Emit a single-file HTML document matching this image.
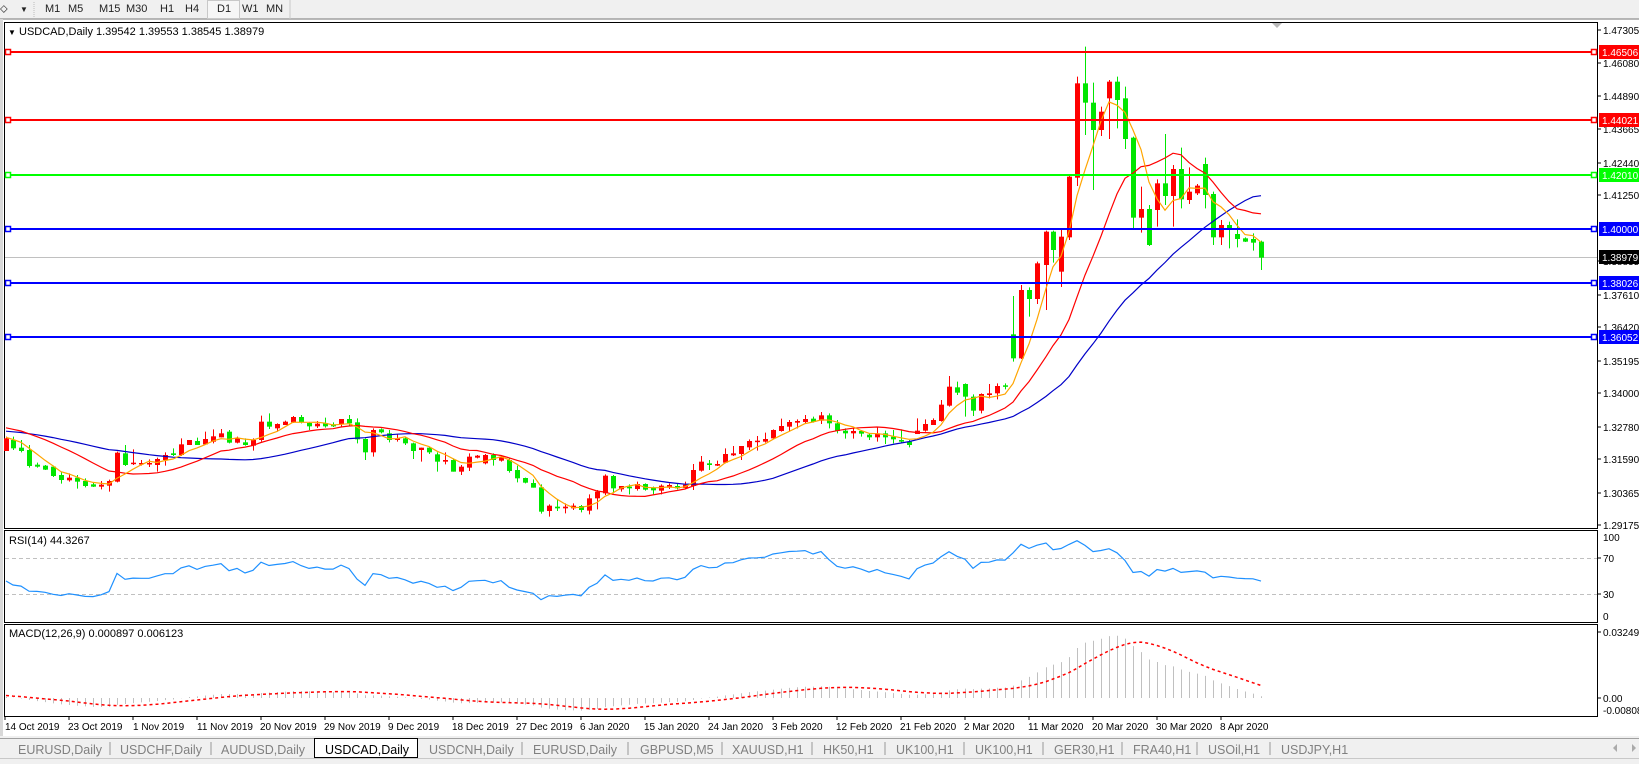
<!DOCTYPE html>
<html><head><meta charset="utf-8"><style>
html,body{margin:0;padding:0;background:#fff;}
svg{display:block;font-family:"Liberation Sans",Tahoma,sans-serif;}
</style></head><body>
<svg id="s" width="1639" height="764" viewBox="0 0 1639 764" xmlns="http://www.w3.org/2000/svg">
<rect x="0" y="0" width="1639" height="764" fill="#ffffff"/>
<rect x="0" y="0" width="1639" height="19" fill="#f0f0f0"/>
<line x1="0" y1="19" x2="1639" y2="19" stroke="#a0a0a0" stroke-width="1.5"/>
<rect x="0" y="19" width="3" height="720" fill="#d8d8d8"/>
<g font-size="11" fill="#222">
<text x="0" y="12">⬦</text><text x="20" y="12" font-size="8">▼</text>
<line x1="34" y1="2" x2="34" y2="17" stroke="#bbb" stroke-dasharray="1,1"/>
<text x="45" y="12">M1</text><text x="68" y="12">M5</text><text x="99" y="12">M15</text><text x="126" y="12">M30</text>
<text x="160" y="12">H1</text><text x="185" y="12">H4</text>
<rect x="207.5" y="0.5" width="32" height="18" fill="#f6f6f6" stroke="#c8c8c8"/>
<text x="217" y="12">D1</text><text x="242" y="12">W1</text><text x="266" y="12">MN</text>
<line x1="290" y1="0" x2="290" y2="19" stroke="#c8c8c8"/>
</g>
<rect x="4.5" y="22.5" width="1593" height="506" fill="none" stroke="#000"/>
<rect x="4.5" y="530.5" width="1593" height="92" fill="none" stroke="#000"/>
<rect x="4.5" y="624.5" width="1593" height="92" fill="none" stroke="#000"/>
<polygon points="1272,23 1282,23 1277,28" fill="#b8b8b8"/>
<g id="plot"></g>
<g id="hl"></g>
<g font-size="11" fill="#000">
<text x="8" y="35" font-size="8">▼</text>
<text x="19" y="35">USDCAD,Daily  1.39542 1.39553 1.38545 1.38979</text>
<text x="9" y="544">RSI(14) 44.3267</text>
<text x="9" y="637">MACD(12,26,9) 0.000897 0.006123</text>
</g>
<g font-size="10" fill="#000" id="pax">
<text x="1603" y="34">1.47305</text>
<text x="1603" y="67">1.46080</text>
<text x="1603" y="100">1.44890</text>
<text x="1603" y="133">1.43665</text>
<text x="1603" y="167">1.42440</text>
<text x="1603" y="199">1.41250</text>
<text x="1603" y="233">1.40000</text>
<text x="1603" y="265">1.38835</text>
<text x="1603" y="299">1.37610</text>
<text x="1603" y="331">1.36420</text>
<text x="1603" y="365">1.35195</text>
<text x="1603" y="397">1.34000</text>
<text x="1603" y="431">1.32780</text>
<text x="1603" y="463">1.31590</text>
<text x="1603" y="497">1.30365</text>
<text x="1603" y="529">1.29175</text>
<text x="1603" y="541">100</text>
<text x="1603" y="562">70</text>
<text x="1603" y="598">30</text>
<text x="1603" y="620">0</text>
<text x="1603" y="636">0.032493</text>
<text x="1603" y="702">0.00</text>
<text x="1603" y="714">-0.008086</text>
</g>
<g stroke="#000" id="ticks">
<line x1="1597" y1="30" x2="1601" y2="30"/><line x1="1597" y1="63" x2="1601" y2="63"/><line x1="1597" y1="96" x2="1601" y2="96"/><line x1="1597" y1="129" x2="1601" y2="129"/><line x1="1597" y1="163" x2="1601" y2="163"/><line x1="1597" y1="195" x2="1601" y2="195"/><line x1="1597" y1="261" x2="1601" y2="261"/><line x1="1597" y1="295" x2="1601" y2="295"/><line x1="1597" y1="327" x2="1601" y2="327"/><line x1="1597" y1="361" x2="1601" y2="361"/><line x1="1597" y1="393" x2="1601" y2="393"/><line x1="1597" y1="427" x2="1601" y2="427"/><line x1="1597" y1="459" x2="1601" y2="459"/><line x1="1597" y1="493" x2="1601" y2="493"/><line x1="1597" y1="525" x2="1601" y2="525"/>
<line x1="1597" y1="558" x2="1601" y2="558"/><line x1="1597" y1="594" x2="1601" y2="594"/><line x1="1597" y1="698" x2="1601" y2="698"/><line x1="1597" y1="632" x2="1601" y2="632"/>
</g>
<g font-size="10" fill="#000">
<text x="5" y="730">14 Oct 2019</text><text x="68" y="730">23 Oct 2019</text><text x="133" y="730">1 Nov 2019</text>
<text x="197" y="730">11 Nov 2019</text><text x="260" y="730">20 Nov 2019</text><text x="324" y="730">29 Nov 2019</text>
<text x="388" y="730">9 Dec 2019</text><text x="452" y="730">18 Dec 2019</text><text x="516" y="730">27 Dec 2019</text>
<text x="580" y="730">6 Jan 2020</text><text x="644" y="730">15 Jan 2020</text><text x="708" y="730">24 Jan 2020</text>
<text x="772" y="730">3 Feb 2020</text><text x="836" y="730">12 Feb 2020</text><text x="900" y="730">21 Feb 2020</text>
<text x="964" y="730">2 Mar 2020</text><text x="1028" y="730">11 Mar 2020</text><text x="1092" y="730">20 Mar 2020</text>
<text x="1156" y="730">30 Mar 2020</text><text x="1220" y="730">8 Apr 2020</text>
</g>
<g stroke="#000">
<line x1="5" y1="716" x2="5" y2="720"/><line x1="69" y1="716" x2="69" y2="720"/><line x1="133" y1="716" x2="133" y2="720"/><line x1="197" y1="716" x2="197" y2="720"/><line x1="261" y1="716" x2="261" y2="720"/><line x1="325" y1="716" x2="325" y2="720"/><line x1="389" y1="716" x2="389" y2="720"/><line x1="453" y1="716" x2="453" y2="720"/><line x1="517" y1="716" x2="517" y2="720"/><line x1="581" y1="716" x2="581" y2="720"/><line x1="645" y1="716" x2="645" y2="720"/><line x1="709" y1="716" x2="709" y2="720"/><line x1="773" y1="716" x2="773" y2="720"/><line x1="837" y1="716" x2="837" y2="720"/><line x1="901" y1="716" x2="901" y2="720"/><line x1="965" y1="716" x2="965" y2="720"/><line x1="1029" y1="716" x2="1029" y2="720"/><line x1="1093" y1="716" x2="1093" y2="720"/><line x1="1157" y1="716" x2="1157" y2="720"/><line x1="1221" y1="716" x2="1221" y2="720"/>
</g>
<rect x="0" y="736" width="1639" height="28" fill="#f0f0f0"/>
<line x1="0" y1="738.5" x2="1639" y2="738.5" stroke="#a0a0a0"/>
<line x1="0" y1="758.5" x2="1639" y2="758.5" stroke="#c8c8c8"/>
<rect x="314.5" y="738.5" width="103" height="19" fill="#fff" stroke="#000"/>
<g font-size="12.5" fill="#808080">
<text x="18" y="754">EURUSD,Daily</text><text x="120" y="754">USDCHF,Daily</text><text x="221" y="754">AUDUSD,Daily</text>
<text x="325" y="754" fill="#000">USDCAD,Daily</text>
<text x="429" y="754">USDCNH,Daily</text><text x="533" y="754">EURUSD,Daily</text><text x="640" y="754">GBPUSD,M5</text>
<text x="732" y="754">XAUUSD,H1</text><text x="823" y="754">HK50,H1</text><text x="896" y="754">UK100,H1</text>
<text x="975" y="754">UK100,H1</text><text x="1054" y="754">GER30,H1</text><text x="1133" y="754">FRA40,H1</text>
<text x="1208" y="754">USOil,H1</text><text x="1281" y="754">USDJPY,H1</text>
</g>
<g stroke="#999">
<line x1="110" y1="742" x2="110" y2="755"/><line x1="211" y1="742" x2="211" y2="755"/><line x1="522" y1="742" x2="522" y2="755"/><line x1="628" y1="742" x2="628" y2="755"/><line x1="722" y1="742" x2="722" y2="755"/><line x1="812" y1="742" x2="812" y2="755"/><line x1="885" y1="742" x2="885" y2="755"/><line x1="964" y1="742" x2="964" y2="755"/><line x1="1043" y1="742" x2="1043" y2="755"/><line x1="1122" y1="742" x2="1122" y2="755"/><line x1="1197" y1="742" x2="1197" y2="755"/><line x1="1270" y1="742" x2="1270" y2="755"/>
</g>
<polygon points="1617,744 1617,752 1613,748" fill="#aaa"/><polygon points="1632,744 1632,752 1636,748" fill="#aaa"/>
</svg>
<script>
(function(){
var NS="http://www.w3.org/2000/svg";
function el(p,t,a){var e=document.createElementNS(NS,t);for(var k in a)e.setAttribute(k,a[k]);p.appendChild(e);return e;}
var Z={8:[0,395],9:[330,395],10:[660,360],11:[960,230],5:[960,40]};
var R=[
[8,18,'r',130,168,125,168],[8,40,'g',135,160,125,165],[8,64,'g',158,168,135,172],[8,88,'g',165,213,150,218],[8,112,'g',209,215,203,218],[8,136,'g',212,224,210,225],[8,160,'g',215,243,212,246],[8,184,'g',240,255,232,266],[8,208,'r',248,256,235,260],[8,232,'g',248,260,240,281],[8,256,'g',258,273,250,277],[8,280,'g',268,275,262,276],[8,304,'r',269,275,258,283],[8,328,'r',258,272,254,290],[8,352,'r',173,260,170,262],[8,376,'g',175,210,150,213],[8,400,'r',203,207,163,210],[8,424,'r',204,208,195,212],[8,448,'r',204,208,193,216],[8,472,'r',192,210,188,230],[8,496,'r',180,195,172,212],[8,520,'g',175,180,160,183],[8,544,'r',148,180,130,183],[8,568,'r',135,150,135,150],[8,592,'g',138,150,128,150],[8,616,'r',132,148,110,150],[8,640,'r',124,140,103,145],[8,664,'r',115,127,102,127],[8,688,'g',110,143,105,145],[8,712,'r',130,143,125,145],[8,736,'g',142,150,130,152],[8,760,'r',135,152,130,167],[8,784,'r',80,135,62,140],[8,808,'g',80,95,55,102],[8,832,'r',87,100,85,110],[8,856,'r',80,90,77,90],[8,880,'r',66,82,63,84],[8,904,'g',66,82,60,85],[8,928,'g',84,94,82,105],[8,952,'r',86,94,78,99],[8,976,'g',84,94,68,98],[8,1000,'g',88,94,82,96],
[9,34,'r',72,88,72,95],[9,58,'g',72,85,60,92],[9,82,'g',82,133,70,145],[9,106,'g',132,172,130,195],[9,130,'r',105,172,100,185],[9,154,'g',103,112,100,115],[9,178,'g',115,135,105,142],[9,202,'r',130,135,118,140],[9,226,'g',130,145,125,150],[9,250,'g',145,168,143,192],[9,274,'r',158,165,158,200],[9,298,'g',158,172,155,177],[9,322,'g',178,200,172,230],[9,346,'r',195,200,172,208],[9,370,'g',195,230,190,230],[9,394,'r',215,230,210,240],[9,418,'r',185,218,175,228],[9,442,'r',182,188,180,190],[9,466,'r',180,205,177,208],[9,490,'g',180,195,175,212],[9,514,'r',185,197,180,200],[9,538,'g',195,228,190,233],[9,562,'g',225,250,212,262],[9,586,'g',249,263,248,265],[9,610,'g',264,278,253,278],[9,634,'g',277,350,268,356],[9,658,'r',332,348,328,365],[9,682,'g',335,340,315,348],[9,706,'r',335,340,325,355],[9,730,'r',332,340,325,345],[9,754,'g',333,345,330,352],[9,778,'r',310,347,298,358],[9,802,'r',290,310,285,343],[9,826,'r',242,295,238,300],[9,850,'g',243,280,240,295],[9,874,'r',273,283,273,290],[9,898,'g',275,280,268,298],[9,922,'r',267,282,260,287],[9,946,'g',267,284,265,287],[9,970,'g',278,286,275,298],[9,994,'r',272,287,268,298],
[10,28,'r',375,383,370,387],[10,52,'g',378,385,372,388],[10,76,'r',374,384,365,388],[10,100,'r',330,378,312,390],[10,124,'r',305,332,288,335],[10,148,'g',310,315,300,330],[10,172,'r',312,317,302,318],[10,196,'r',282,308,265,310],[10,220,'r',280,286,258,288],[10,244,'r',258,282,258,300],[10,268,'r',243,262,238,270],[10,292,'r',242,244,228,272],[10,316,'r',237,245,218,248],[10,340,'r',210,235,208,238],[10,364,'r',198,213,176,215],[10,388,'r',186,200,180,215],[10,412,'r',183,188,178,205],[10,436,'r',177,186,165,192],[10,460,'g',176,186,170,188],[10,484,'r',166,182,156,192],[10,508,'g',166,190,160,205],[10,532,'g',190,213,180,220],[10,556,'g',212,220,205,236],[10,580,'r',213,220,205,236],[10,604,'g',213,221,210,230],[10,628,'g',224,232,220,240],[10,652,'r',220,232,200,245],[10,676,'g',220,232,212,252],[10,700,'g',230,238,210,250],[10,724,'g',240,245,208,250],[10,748,'g',245,255,240,262],[10,772,'r',212,222,175,222],[10,796,'r',192,212,178,215],[10,820,'r',180,195,175,195],[10,844,'r',134,183,120,185],[10,868,'r',80,137,48,140],[10,892,'g',82,98,65,105],[10,916,'g',72,110,70,170],[10,940,'g',110,152,103,168],[10,964,'r',102,152,100,160],[10,988,'r',100,105,72,115],
[11,112,'r',468,490,460,508],[11,136,'g',466,469,460,478],[11,160,'g',313,385,198,395],[11,184,'r',180,385,165,387],[11,208,'g',180,207,172,260],[11,232,'r',100,207,95,222],
[5,257,'r',575,675,572,810],[5,280,'g',575,630,572,668],[5,304,'r',590,695,570,741],[5,328,'r',410,592,405,600],[5,352,'r',130,413,110,438],[5,376,'g',130,188,20,285],[5,400,'g',188,270,128,450],[5,424,'r',215,270,200,288],[5,448,'r',125,175,120,297],[5,472,'g',125,180,110,265],[5,496,'g',175,297,140,327],[5,520,'g',293,533,290,565],[5,544,'r',507,533,440,578],[5,568,'g',507,615,495,618],[5,592,'r',430,510,418,560],[5,616,'g',430,468,282,495],[5,640,'r',387,468,375,560],[5,664,'g',387,478,323,505],[5,688,'r',455,480,382,492],[5,712,'r',437,460,432,465],[5,736,'g',372,465,353,505],[5,760,'g',462,592,455,615],[5,784,'r',555,592,540,615],[5,808,'g',555,570,545,625],[5,832,'g',582,597,538,622],
[11,856,'g',25,35,22,36],[11,880,'g',27,38,10,62],[11,904,'g',35,83,32,120]
];
var plot=document.getElementById('plot');
var C=[];
R.forEach(function(r){var o=Z[r[0]];var x=Math.round(o[0]+r[1]/3);
 var t=o[1]+r[3]/3,b=o[1]+r[4]/3,h=o[1]+r[5]/3,l=o[1]+r[6]/3;
 C.push({x:x,t:t,b:b,h:h,l:l,c:r[2],cl:r[2]=='r'?t:b});});
function P(y){return 1.47305-(y-30)/2730.3;}
el(plot,'line',{x1:5,y1:257.5,x2:1597,y2:257.5,stroke:'#c0c0c0'});
function sma(n,init){var a=[],buf=[];for(var i=0;i<n-1;i++)buf.push(init);
 C.forEach(function(c){buf.push(c.cl);if(buf.length>n)buf.shift();var s=0;buf.forEach(function(v){s+=v});a.push(s/buf.length);});return a;}
function poly(arr,col,w){var pts=arr.map(function(v,i){return C[i].x+','+v.toFixed(1)}).join(' ');el(plot,'polyline',{points:pts,fill:'none',stroke:col,'stroke-width':w});}
C.forEach(function(c){var col=c.c=='r'?'#ff0000':'#00e600';
 el(plot,'line',{x1:c.x+0.5,y1:c.h,x2:c.x+0.5,y2:c.l,stroke:col,'stroke-width':1});
 var hh=Math.max(1.5,c.b-c.t);el(plot,'rect',{x:c.x-2,y:c.t,width:5,height:hh,fill:col});});
poly(sma(30,431),'#0000c8',1.2);
poly(sma(14,427),'#ff0000',1.2);
poly(sma(5,437),'#ffa500',1.2);
var ag=0.0012,al=0.0015,rs=[];var prev=P(C[0].cl);
C.forEach(function(c,i){var p=P(c.cl);var d=i?p-prev:0;prev=p;var g=d>0?d:0,l=d<0?-d:0;ag=(ag*13+g)/14;al=(al*13+l)/14;rs.push(100-100/(1+ag/al));});
el(plot,'line',{x1:5,y1:558.5,x2:1597,y2:558.5,stroke:'#c0c0c0','stroke-dasharray':'4,3'});
el(plot,'line',{x1:5,y1:594.5,x2:1597,y2:594.5,stroke:'#c0c0c0','stroke-dasharray':'4,3'});
el(plot,'polyline',{points:rs.map(function(v,i){return C[i].x+','+(621-0.9*v).toFixed(1)}).join(' '),fill:'none',stroke:'#1e90ff','stroke-width':1.2});
var p0=P(C[0].cl),e12=p0+0.0006,e26=p0,m=[],sig=[],buf=[];
C.forEach(function(c){var p=P(c.cl);e12+= (p-e12)*2/13;e26+=(p-e26)*2/27;var v=e12-e26;m.push(v);
 buf.push(v);if(buf.length>9)buf.shift();var s=0;buf.forEach(function(q){s+=q});sig.push(s/buf.length+(buf.length<9?0.0008*(9-buf.length)/9:0));});
m.forEach(function(v,i){var y=698-v*2031;y=Math.max(626,Math.min(715,y));el(plot,'line',{x1:C[i].x+0.5,y1:698,x2:C[i].x+0.5,y2:y,stroke:'#c0c0c0','stroke-width':1});});
el(plot,'polyline',{points:sig.map(function(v,i){return C[i].x+','+(698-v*2031).toFixed(1)}).join(' '),fill:'none',stroke:'#ff0000','stroke-width':1.5,'stroke-dasharray':'3,3'});
var hl=document.getElementById('hl');
[[51.8,'#ff0000'],[119.7,'#ff0000'],[174.6,'#00ff00'],[229.4,'#0000ff'],[283.3,'#0000ff'],[337.2,'#0000ff']].forEach(function(h){
 var y=Math.round(h[0]);
 el(hl,'line',{x1:5,y1:y,x2:1597,y2:y,stroke:h[1],'stroke-width':2});
 el(hl,'rect',{x:5.5,y:y-2.5,width:5,height:5,fill:'#fff',stroke:h[1],'stroke-width':1.5});
 el(hl,'rect',{x:1591.5,y:y-2.5,width:5,height:5,fill:'#fff',stroke:h[1],'stroke-width':1.5});
});
})();
</script>
<svg width="1639" height="764" style="position:absolute;left:0;top:0" xmlns="http://www.w3.org/2000/svg" font-family="Liberation Sans, sans-serif" font-size="10">
<rect x="1599" y="45" width="40" height="14" fill="#ff0000"/><text x="1602" y="56" fill="#fff">1.46506</text>
<rect x="1599" y="113" width="40" height="14" fill="#ff0000"/><text x="1602" y="124" fill="#fff">1.44021</text>
<rect x="1599" y="168" width="40" height="14" fill="#00ff00"/><text x="1602" y="179" fill="#fff">1.42010</text>
<rect x="1599" y="222" width="40" height="14" fill="#0000ff"/><text x="1602" y="233" fill="#fff">1.40000</text>
<rect x="1599" y="250" width="40" height="14" fill="#000"/><text x="1602" y="261" fill="#fff">1.38979</text>
<rect x="1599" y="276" width="40" height="14" fill="#0000ff"/><text x="1602" y="287" fill="#fff">1.38026</text>
<rect x="1599" y="330" width="40" height="14" fill="#0000ff"/><text x="1602" y="341" fill="#fff">1.36052</text>
</svg>
</body></html>
